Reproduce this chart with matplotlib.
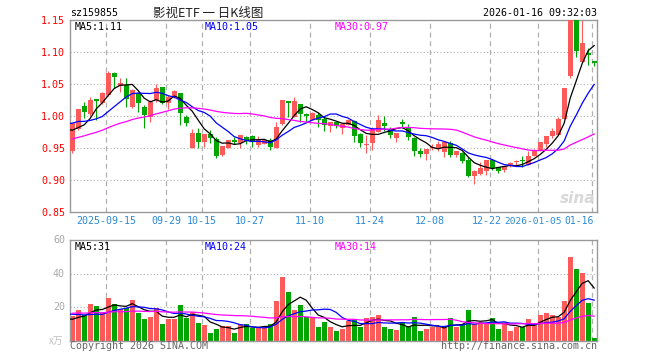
import matplotlib
matplotlib.use("Agg")
import matplotlib.pyplot as plt
import pandas as pd

W, H = 660, 360

# daily OHLC of sz159855, 2025-09-05 .. 2026-01-16 (88 sessions)
opens = [0.9458, 0.9797, 1.0156, 1.0031, 1.026, 1.0208, 1.0328, 1.0677, 1.0469, 1.0485,
         1.0146, 1.0355, 1.0146, 0.999, 1.025, 1.0458, 1.0208, 1.0292, 1.0354, 0.999,
         0.9495, 0.974, 0.9599, 0.9719, 0.9635, 0.9391, 0.9495, 0.9615, 0.9573, 0.967,
         0.969, 0.955, 0.957, 0.962, 0.9495, 0.9875, 1.023, 0.999, 1.0188, 1.003,
         0.993, 1.002, 0.995, 0.985, 0.990, 0.981, 0.986, 0.9922, 0.9714, 0.955,
         0.9573, 0.9755, 0.9896, 0.9797, 0.9661, 0.990, 0.982, 0.965, 0.9458, 0.9406,
         0.950, 0.948, 0.9443, 0.9573, 0.939, 0.9422, 0.932, 0.9057, 0.9094, 0.9146,
         0.932, 0.920, 0.9161, 0.924, 0.928, 0.930, 0.924, 0.937, 0.945, 0.9563,
         0.968, 0.971, 0.9958, 1.062, 1.160, 1.084, 1.098, 1.086]
highs = [0.9886, 1.0115, 1.0224, 1.0292, 1.027, 1.037, 1.0708, 1.068, 1.0589, 1.0589,
         1.042, 1.038, 1.0172, 1.025, 1.05, 1.0458, 1.033, 1.041, 1.0354, 1.0016,
         0.979, 0.981, 0.972, 0.978, 0.967, 0.9531, 0.9625, 0.967, 0.971, 0.969,
         0.970, 0.969, 0.963, 0.965, 0.991, 1.025, 1.023, 1.030, 1.0188, 1.004,
         1.007, 1.007, 1.000, 0.991, 0.991, 0.987, 0.996, 0.9937, 0.974, 0.9703,
         0.9823, 1.0016, 1.000, 0.983, 0.974, 0.995, 0.987, 0.9667, 0.9495, 0.9484,
         0.9557, 0.9615, 0.9589, 0.9615, 0.9458, 0.9443, 0.9354, 0.915, 0.928, 0.932,
         0.932, 0.920, 0.9224, 0.928, 0.9318, 0.937, 0.945, 0.948, 0.9594, 0.9693,
         0.981, 0.998, 1.0438, 1.165, 1.165, 1.160, 1.107, 1.086]
lows = [0.9427, 0.978, 0.9964, 1.000, 0.9937, 1.019, 1.032, 1.0443, 1.038, 1.0146,
        1.013, 1.0068, 0.9818, 0.991, 1.0224, 1.018, 1.0104, 1.028, 0.9859, 0.9844,
        0.9495, 0.9495, 0.9521, 0.9573, 0.934, 0.937, 0.9495, 0.957, 0.9495, 0.956,
        0.952, 0.952, 0.957, 0.947, 0.9495, 0.986, 0.998, 0.999, 0.991, 0.990,
        0.993, 0.983, 0.976, 0.9755, 0.981, 0.972, 0.986, 0.960, 0.952, 0.9417,
        0.9469, 0.9755, 0.9766, 0.965, 0.9588, 0.982, 0.9625, 0.9375, 0.9354, 0.9313,
        0.947, 0.945, 0.9365, 0.9365, 0.936, 0.9266, 0.904, 0.8943, 0.908, 0.908,
        0.9161, 0.911, 0.9125, 0.9198, 0.923, 0.920, 0.924, 0.937, 0.945, 0.951,
        0.966, 0.971, 0.9948, 1.0594, 1.092, 1.084, 1.080, 1.078]
closes = [0.9886, 1.0109, 1.0068, 1.025, 1.024, 1.0365, 1.0677, 1.0615, 1.051, 1.026,
          1.0406, 1.0198, 1.0016, 1.0224, 1.0432, 1.0208, 1.030, 1.0396, 1.0042, 0.9896,
          0.974, 0.960, 0.9719, 0.9651, 0.9375, 0.9531, 0.9625, 0.960, 0.9703, 0.962,
          0.960, 0.9625, 0.963, 0.951, 0.9833, 1.025, 1.0198, 1.024, 1.003, 1.000,
          1.004, 0.994, 0.986, 0.991, 0.985, 0.987, 0.9937, 0.9693, 0.9583, 0.956,
          0.9792, 0.9937, 0.9844, 0.9703, 0.974, 0.988, 0.9677, 0.9458, 0.9406, 0.9484,
          0.952, 0.957, 0.9589, 0.939, 0.9458, 0.9302, 0.9057, 0.9146, 0.9188, 0.931,
          0.919, 0.9146, 0.9224, 0.9266, 0.9281, 0.929, 0.937, 0.946, 0.9594, 0.9682,
          0.977, 0.9953, 1.0438, 1.155, 1.102, 1.114, 1.096, 1.083]
# volume, 10k shares
volumes = [15.1, 18.5, 15.5, 22.1, 20.9, 16.5, 25.7, 22.1, 19.1, 19.5,
           24.5, 16.7, 13.1, 14.3, 19.7, 10.1, 13.3, 13.1, 21.5, 13.9,
           17.1, 10.9, 9.6, 5.0, 7.2, 9.0, 9.0, 5.0, 10.0, 10.3,
           7.6, 7.6, 7.6, 10.3, 23.5, 37.8, 28.9, 18.5, 21.5, 14.5,
           14.1, 8.6, 11.5, 8.6, 6.0, 7.4, 11.9, 12.5, 8.6, 13.7,
           14.5, 15.7, 8.6, 7.2, 6.8, 10.5, 8.6, 14.5, 6.0, 7.4,
           8.6, 8.6, 8.0, 13.7, 8.6, 10.0, 18.5, 10.0, 11.5, 10.0,
           13.7, 7.2, 10.5, 6.0, 8.6, 8.6, 13.1, 10.0, 15.5, 16.5,
           15.5, 14.5, 23.5, 50.0, 42.5, 40.5, 22.7, 1.6]

# sessions before the window, only used to seed the moving averages
prior_closes = [0.93, 0.935, 0.94, 0.945, 0.94, 0.945, 0.95, 0.955, 0.95, 0.945,
                0.95, 0.955, 0.96, 0.955, 0.95, 0.955, 0.96, 0.965, 0.97, 0.975,
                0.985, 1.005, 1.01, 1.0, 1.0, 0.99, 0.985, 0.975, 0.95]
prior_volumes = [15, 18, 16, 17, 19, 15, 16, 18, 17, 16,
                 17, 18, 16, 17, 18, 16, 17, 16, 17, 17,
                 20, 18.5, 19, 19.5, 17.5, 13.0, 11.5, 12.0, 12.9]

date_labels = ["2025-09-15", "09-29", "10-15", "10-27", "11-10", "11-24",
               "12-08", "12-22", "2026-01-05", "01-16"]
date_idx = [6, 16, 22, 30, 40, 50, 60, 70, 78, 87]
price_ticks = [1.15, 1.10, 1.05, 1.00, 0.95, 0.90, 0.85]
vol_ticks = [60, 40, 20]

RED = "#ff5a5a"
GREEN = "#00a600"
GRID = "#b0b0b0"
MONO = "DejaVu Sans Mono"
CJK = ["Noto Sans CJK SC", "DejaVu Sans"]

n = len(closes)
np_ = len(prior_closes)


def ma(values, k):
    return pd.Series(values).rolling(k).mean().to_numpy()[np_ - 1:]


all_c = prior_closes + closes
all_v = prior_volumes + volumes
xs = list(range(-1, n))

fig = plt.figure(figsize=(W / 100, H / 100), dpi=100)
fig.patch.set_facecolor("white")


def px_axes(left, top, right, bottom):
    return fig.add_axes([left / W, 1 - bottom / H, (right - left) / W, (bottom - top) / H])


def ftext(x, y, s, **kw):
    fig.text(x / W, 1 - y / H, s, **kw)


ax = px_axes(70, 20, 597, 212)
vax = px_axes(70, 240, 597, 341)

for a in (ax, vax):
    a.set_xlim(-0.37, n - 0.53)
    a.set_xticks([])
    a.set_yticks([])
    for sp in a.spines.values():
        sp.set_color("#999999")
        sp.set_linewidth(1)
    for d in date_idx:
        a.axvline(d - 0.33, color=GRID, lw=0.9, ls=(0, (4, 3)), zorder=0)

ax.set_ylim(0.85, 1.15)
for t in price_ticks[1:-1]:
    ax.axhline(t, color=GRID, lw=0.8, ls=(0, (1, 2)), zorder=0)
vax.set_ylim(0, 60)
for t in vol_ticks[1:]:
    vax.axhline(t, color=GRID, lw=0.8, ls=(0, (1, 2)), zorder=0)

# candles and volume bars
for i in range(n):
    up = closes[i] >= opens[i]
    c = RED if up else GREEN
    ax.vlines(i, lows[i], highs[i], color=c, lw=0.8, zorder=2)
    lo = min(opens[i], closes[i])
    h = max(abs(closes[i] - opens[i]), 0.0018)
    ax.bar(i, h, bottom=lo, width=0.8, color=c, lw=0, zorder=3)
    vax.bar(i, volumes[i], width=0.8, color=c, lw=0, zorder=2)

# moving averages
for k, col in ((5, "black"), (10, "#0000ff"), (30, "#ff00ff")):
    ax.plot(xs, ma(all_c, k), color=col, lw=0.9, zorder=4)
    vax.plot(xs, ma(all_v, k), color=col, lw=0.9, zorder=4)

# header
ftext(70, 13, "sz159855", fontsize=7.2, family=MONO, va="center", color="black")
ftext(208, 13, "影视ETF 一 日K线图", fontsize=9, family=CJK, va="center", ha="center", color="#222222")
ftext(597, 13, "2026-01-16 09:32:03", fontsize=7.2, family=MONO, va="center", ha="right", color="black")

# MA legends
ftext(75, 27, "MA5:1.11", fontsize=7.2, family=MONO, va="center", color="black")
ftext(205, 27, "MA10:1.05", fontsize=7.2, family=MONO, va="center", color="#0000ff")
ftext(335, 27, "MA30:0.97", fontsize=7.2, family=MONO, va="center", color="#ff00ff")
ftext(75, 247, "MA5:31", fontsize=7.2, family=MONO, va="center", color="black")
ftext(205, 247, "MA10:24", fontsize=7.2, family=MONO, va="center", color="#0000ff")
ftext(335, 247, "MA30:14", fontsize=7.2, family=MONO, va="center", color="#ff00ff")

# y labels
for t in price_ticks:
    y = 20 + (1.15 - t) * 640
    ftext(65, y + 1, f"{t:.2f}", fontsize=7.2, family=MONO, va="center", ha="right", color="#ff0000")
for t in vol_ticks:
    y = 341 - t * 101 / 60
    ftext(65, y, f"{t}", fontsize=7.2, family=MONO, va="center", ha="right", color="#aaaaaa")
ftext(63, 341, "x万", fontsize=7, family=CJK, va="center", ha="right", color="#c0c0c0")

# date labels (the last three crowd each other at the right edge)
for lab, d in zip(date_labels[:-3], date_idx[:-3]):
    x = 72.2 + 6 * d - 2
    ftext(x, 221, lab, fontsize=7.2, family=MONO, va="center", ha="center", color="#2a8ad4")
ftext(487, 221, date_labels[-3], fontsize=7.2, family=MONO, va="center", ha="center", color="#2a8ad4")
ftext(562, 221, date_labels[-2], fontsize=6.8, family=MONO, va="center", ha="right", color="#2a8ad4")
ftext(594, 221, date_labels[-1], fontsize=7.0, family=MONO, va="center", ha="right", color="#2a8ad4")

# footer
ftext(70, 346, "Copyright 2026 SINA.COM", fontsize=7.2, family=MONO, va="center", color="#666666")
ftext(597, 346, "http://finance.sina.com.cn", fontsize=7.2, family=MONO, va="center", ha="right", color="#666666")

# watermark
ftext(578, 198, "sina", fontsize=11, weight="bold", style="italic", va="center", ha="center",
      color="#d8d8d8", family="DejaVu Sans")

fig.savefig("out.png", dpi=100)
